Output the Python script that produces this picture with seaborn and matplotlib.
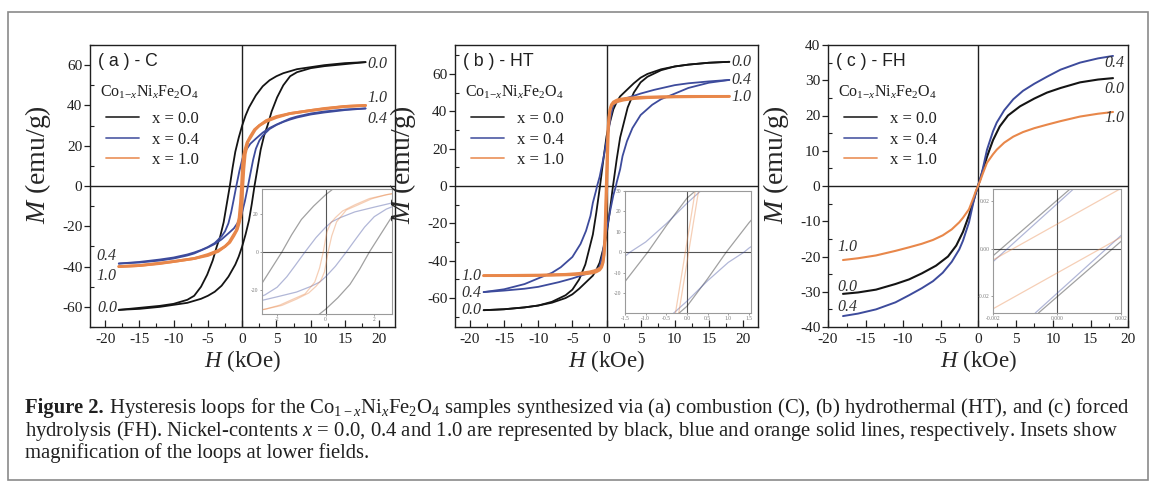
import numpy as np
import pandas as pd
import matplotlib
matplotlib.use("Agg")
import matplotlib.pyplot as plt
import seaborn as sns
from matplotlib.patches import Rectangle
from matplotlib.lines import Line2D
from matplotlib.ticker import MultipleLocator, FixedLocator, FixedFormatter

# ---------------- data (upper / descending branches) ----------------
samples = ["0.0", "0.4", "1.0"]

# (a) combustion
a_H_00 = [18, 15, 12, 10, 8, 7, 6, 5, 4, 3, 2, 1, 0.5, 0, -0.5, -1, -1.4, -1.8, -2.2, -2.7, -3.2, -3.7,
          -4.3, -5.1, -6, -7, -8, -10, -12, -15, -18]
a_M_00 = [61.5, 61, 60, 59, 58, 57, 56, 54.5, 52.5, 49.5, 45, 39, 35, 30, 24, 17, 9, 0, -8, -18, -25, -30,
          -37, -44, -50, -54.5, -56.5, -58.5, -59.5, -60.5, -61.5]
a_H_04 = [18, 15, 12, 10, 8, 7, 6, 5, 4, 3, 2, 1.2, 0.6, 0.25, 0, -0.4, -0.85, -1.25, -1.6, -2, -2.5, -3,
          -4, -5, -6, -7, -8, -10, -12, -15, -18]
a_M_04 = [38.5, 38, 37, 36, 34.5, 33.5, 32, 30.5, 28.8, 26.5, 23.5, 21, 18, 15.8, 13, 7.5, 0, -7, -13, -18.5,
          -22.5, -25, -28.3, -30.3, -31.8, -33, -34, -35.5, -36.5, -37.7, -38.5]
a_H_10 = [18, 15, 12, 10, 7, 5, 3.5, 2.5, 1.8, 1.2, 0.7, 0.4, 0.2, 0.05, -0.1, -0.25, -0.45, -0.85, -1.3,
          -1.9, -2.5, -3.5, -5, -7, -10, -15, -18]
a_M_10 = [40, 39.5, 38.5, 37.5, 36, 34.5, 32.5, 30, 28, 24.7, 21.5, 18, 15, 10.5, 0, -8.4, -15.8, -22, -24.5,
          -27.9, -30, -32, -34, -36, -37.5, -39.5, -40]

# (b) hydrothermal
b_H_00 = [18, 15, 12, 10, 8, 6, 5, 4, 3, 2, 1.5, 1, 0.5, 0.2, 0, -0.5, -0.95, -1.5, -2, -3.1, -4, -5, -6,
          -8, -10, -12, -15, -18]
b_M_00 = [66.5, 66, 65, 64, 62.5, 60, 58, 55, 51.5, 48, 45, 41, 34, 30, 26.5, 13, 0, -14.4, -26, -42, -50,
          -55.5, -58.5, -62, -64, -65, -66, -66.5]
b_H_04 = [18, 15, 12, 10, 7, 5, 3.5, 2, 1, 0.6, 0.33, 0, -0.5, -1, -1.38, -1.5, -2, -2.35, -3, -3.8, -5,
          -6.7, -8, -9.7, -12, -15, -18]
b_M_04 = [56.8, 56, 55, 54, 51.5, 49.5, 47.7, 46, 43.5, 37, 30, 24, 14, 5, 0, -2, -9, -16, -24, -31, -38,
          -43.5, -46.5, -49, -52.5, -55.3, -56.8]
b_H_10 = [18, 12, 8, 5, 3, 2, 1.5, 1, 0.7, 0.5, 0.35, 0.2, 0.08, -0.04, -0.16, -0.28, -0.4, -0.55, -0.8,
          -1.2, -1.6, -2.5, -4, -6, -10, -18]
b_M_10 = [48, 48, 47.8, 47.5, 47, 46.5, 46, 45, 43.5, 41, 37, 30, 15, 0, -15, -30, -37, -41, -43.5, -44.5,
          -45.2, -46, -46.8, -47.3, -47.7, -48]

# (c) forced hydrolysis (positive half, curves are odd-symmetric)
c_H_00 = [0, 0.3, 0.6, 1.2, 2, 2.9, 4, 5.6, 7.5, 9.2, 11, 13.6, 16, 18]
c_M_00 = [0, 2, 4.2, 8.3, 13, 16.9, 20, 22.6, 24.8, 26.5, 27.8, 29.4, 30.2, 30.6]
c_H_04 = [0, 0.3, 0.6, 1.2, 2, 2.5, 3.5, 4.7, 6, 7.5, 9.2, 11, 13.6, 16, 18]
c_M_04 = [0, 2, 4.5, 10.3, 15.5, 18, 21.5, 24.6, 27, 29, 31, 33, 35, 36.2, 36.9]
c_H_10 = [0, 0.3, 0.6, 1.2, 2, 2.5, 3.5, 4.7, 6, 7.5, 9.2, 11, 13.6, 16, 18]
c_M_10 = [0, 1.5, 3.3, 6.6, 9, 10.3, 12.3, 14, 15.3, 16.4, 17.4, 18.4, 19.7, 20.5, 21]

# (c) inset: low-field upper branches (kOe, emu/g)
ci_H_00 = [-0.0021, 0.00058]
ci_M_00 = [-0.0042, 0.027]
ci_H_04 = [-0.0021, 0.00068]
ci_M_04 = [-0.0067, 0.027]
ci_H_10 = [-0.0021, 0.0021]
ci_M_10 = [-0.0055, 0.0260]

# end labels: (H, M, text, ha)
a_labels = [(18.3, 60.5, "0.0", "left"), (18.3, 43.5, "1.0", "left"), (18.3, 33.5, "0.4", "left"),
            (-18.4, -35.0, "0.4", "right"), (-18.4, -44.8, "1.0", "right"), (-18.2, -60.5, "0.0", "right")]
b_labels = [(18.3, 66.4, "0.0", "left"), (18.3, 56.8, "0.4", "left"), (18.3, 47.5, "1.0", "left"),
            (-18.3, -48.2, "1.0", "right"), (-18.3, -57.3, "0.4", "right"), (-18.3, -66.4, "0.0", "right")]
c_labels = [(16.8, 34.8, "0.4", "left"), (16.8, 27.4, "0.0", "left"), (16.8, 19.2, "1.0", "left"),
            (-18.7, -17.3, "1.0", "left"), (-18.7, -28.6, "0.0", "left"), (-18.7, -34.2, "0.4", "left")]

panel_titles = ["( a ) - C", "( b ) - HT", "( c ) - FH"]
legend_labels = ["x = 0.0", "x = 0.4", "x = 1.0"]
formula = r"Co$_{1\mathrm{-}x}$Ni$_{x}$Fe$_{2}$O$_{4}$"

caption_bold = "Figure 2."
caption_l1 = (r" Hysteresis loops for the Co$_{1-x}$Ni$_{x}$Fe$_{2}$O$_{4}$ samples synthesized via (a) combustion (C), "
              r"(b) hydrothermal (HT), and (c) forced")
caption_l2 = (r"hydrolysis (FH). Nickel-contents $x\,=\,$0.0, 0.4 and 1.0 are represented by black, blue and orange "
              r"solid lines, respectively. Insets show")
caption_l3 = "magnification of the loops at lower fields."

# ---------------- style ----------------
colors = {"0.0": "#141414", "0.4": "#3d4b9c", "1.0": "#e8874a"}
widths = [{"0.0": 1.3, "0.4": 1.3, "1.0": 2.0},
          {"0.0": 1.3, "0.4": 1.3, "1.0": 2.0},
          {"0.0": 1.5, "0.4": 1.4, "1.0": 1.5}]
SERIF = ["Liberation Serif", "DejaVu Serif"]
SANS = ["Liberation Sans", "DejaVu Sans"]

sns.set_theme(style="ticks")
plt.rcParams.update({
    "font.family": SERIF,
    "mathtext.fontset": "custom",
    "mathtext.rm": "Liberation Serif",
    "mathtext.it": "Liberation Serif:italic",
    "mathtext.bf": "Liberation Serif:bold",
    "axes.unicode_minus": False,
    "axes.edgecolor": "#202020",
    "axes.linewidth": 1.0,
    "xtick.color": "#202020",
    "ytick.color": "#202020",
    "text.color": "#202020",
})

W, Hpx = 1153, 493
fig = plt.figure(figsize=(W / 100, Hpx / 100), dpi=100)
fig.patch.set_facecolor("white")


def rect(x0, y0, x1, y1):
    return [x0 / W, 1 - y1 / Hpx, (x1 - x0) / W, (y1 - y0) / Hpx]


def loop_frame(Hs, Ms):
    Hs = np.asarray(Hs, float)
    Ms = np.asarray(Ms, float)
    # descending branch and the ascending (point-symmetric) branch
    return pd.DataFrame({"H": np.concatenate([Hs, -Hs]), "M": np.concatenate([Ms, -Ms]),
                         "branch": ["down"] * len(Hs) + ["up"] * len(Hs)})


def odd_frame(Hs, Ms):
    Hs = np.asarray(Hs, float)
    Ms = np.asarray(Ms, float)
    h = np.concatenate([-Hs[::-1], Hs[1:]])
    m = np.concatenate([-Ms[::-1], Ms[1:]])
    return pd.DataFrame({"H": h, "M": m, "branch": ["one"] * len(h)})


panel_data = [
    {s: loop_frame(h, m) for s, h, m in zip(samples, [a_H_00, a_H_04, a_H_10], [a_M_00, a_M_04, a_M_10])},
    {s: loop_frame(h, m) for s, h, m in zip(samples, [b_H_00, b_H_04, b_H_10], [b_M_00, b_M_04, b_M_10])},
    {s: odd_frame(h, m) for s, h, m in zip(samples, [c_H_00, c_H_04, c_H_10], [c_M_00, c_M_04, c_M_10])},
]
inset_c_data = {s: loop_frame(h, m) for s, h, m in
                zip(samples, [ci_H_00, ci_H_04, ci_H_10], [ci_M_00, ci_M_04, ci_M_10])}

main_rects = [rect(90, 45, 395, 327), rect(455, 45, 758, 327), rect(828, 45, 1128, 327)]
xlims = [(-22.2, 22.3), (-22.2, 22.2), (-20, 20)]
ylims = [(-70, 70), (-75.5, 75.5), (-40, 40)]
ymaj = [20, 20, 10]
labels_all = [a_labels, b_labels, c_labels]

inset_rects = [rect(262, 189, 392, 314), rect(625, 191, 751, 313), rect(993, 189, 1121, 313)]
inset_xlims = [(-2.62, 2.73), (-1.5, 1.55), (-0.002, 0.002)]
inset_ylims = [(-32.5, 33), (-29.8, 30), (-0.027, 0.025)]
inset_xticks = [[-2, 0, 2], [-1.5, -1.0, -0.5, 0.0, 0.5, 1.0, 1.5], [-0.002, 0.0, 0.002]]
inset_xtl = [["-2", "0", "2"], ["-1.5", "-1.0", "-0.5", "0.0", "0.5", "1.0", "1.5"], ["-0.002", "0.000", "0.002"]]
inset_yticks = [[-20, 0, 20], [-20, -10, 0, 10, 20, 30], [-0.02, 0.0, 0.02]]
inset_ytl = [["-20", "0", "20"], ["-20", "-10", "0", "10", "20", "30"], ["-0.02", "0.00", "0.02"]]

for i in range(3):
    ax = fig.add_axes(main_rects[i])
    ax.axhline(0, color="#202020", lw=1.0, zorder=1)
    ax.axvline(0, color="#202020", lw=1.0, zorder=1)
    for s in samples:
        sns.lineplot(data=panel_data[i][s], x="H", y="M", units="branch", sort=False, estimator=None,
                     color=colors[s], lw=widths[i][s], ax=ax, zorder=3)
    ax.set_xlim(*xlims[i])
    ax.set_ylim(*ylims[i])
    ax.xaxis.set_major_locator(MultipleLocator(5))
    ax.xaxis.set_minor_locator(MultipleLocator(2.5))
    ax.yaxis.set_major_locator(MultipleLocator(ymaj[i]))
    ax.yaxis.set_minor_locator(MultipleLocator(ymaj[i] / 2))
    ax.tick_params(axis="x", which="major", direction="in", length=5, width=0.9, labelsize=11, pad=4)
    ax.tick_params(axis="x", which="minor", direction="in", length=3, width=0.8)
    ax.tick_params(axis="y", which="major", direction="out", length=4, width=0.9, labelsize=11, pad=1.5)
    ax.tick_params(axis="y", which="minor", direction="in", length=3, width=0.8)
    ax.set_xlabel(r"$H$ (kOe)", fontsize=16.5)
    ax.set_ylabel(r"$M$ (emu/g)", fontsize=20)
    ax.xaxis.set_label_coords(0.5, -0.075)
    ax.yaxis.set_label_coords(-0.122, 0.575)
    for sp in ax.spines.values():
        sp.set_visible(True)
        sp.set_linewidth(1.0)

    ax.text(0.025, 0.94, panel_titles[i], transform=ax.transAxes, family=SANS, fontsize=12.7,
            ha="left", va="center")
    ax.text(0.033, 0.833, formula, transform=ax.transAxes, fontsize=11.5, ha="left", va="center")
    handles = [Line2D([], [], color=colors[s], lw=1.3, alpha=0.85) for s in samples]
    ax.legend(handles, legend_labels, loc="upper left", bbox_to_anchor=(0.03, 0.79), frameon=False,
              fontsize=12, handlelength=2.0, handletextpad=0.8, labelspacing=0.28, borderaxespad=0)
    for (hx, my, txt, ha) in labels_all[i]:
        ax.text(hx, my, txt, ha=ha, va="center", fontsize=11.5, style="italic", color="#303030", zorder=4)

    # inset
    ins = fig.add_axes(inset_rects[i])
    ins.set_facecolor("white")
    ins.axhline(0, color="#555555", lw=0.8)
    ins.axvline(0, color="#555555", lw=0.8)
    data_src = panel_data[i] if i < 2 else inset_c_data
    for s in samples:
        sns.lineplot(data=data_src[s], x="H", y="M", units="branch", sort=False, estimator=None,
                     color=colors[s], lw=0.9, alpha=0.4, ax=ins)
    ins.set_xlim(*inset_xlims[i])
    ins.set_ylim(*inset_ylims[i])
    ins.xaxis.set_major_locator(FixedLocator(inset_xticks[i]))
    ins.xaxis.set_major_formatter(FixedFormatter(inset_xtl[i]))
    ins.yaxis.set_major_locator(FixedLocator(inset_yticks[i]))
    ins.yaxis.set_major_formatter(FixedFormatter(inset_ytl[i]))
    ins.tick_params(axis="both", which="major", direction="out", length=1.5, width=0.5, labelsize=4,
                    pad=1, colors="#777777")
    ins.set_xlabel("")
    ins.set_ylabel("")
    for sp in ins.spines.values():
        sp.set_visible(True)
        sp.set_color("#9a9a9a")
        sp.set_linewidth(0.8)

# ---------------- caption ----------------
fig.canvas.draw()
renderer = fig.canvas.get_renderer()
x_start = 25
target_w = 1127 - 25
fs0 = 12.0
tb = fig.text(x_start / W, 1 - 408 / Hpx, caption_bold, fontsize=fs0, weight="bold", ha="left", va="center")
t1 = fig.text(0, 1 - 408 / Hpx, caption_l1, fontsize=fs0, ha="left", va="center")
wb = tb.get_window_extent(renderer).width
w1 = t1.get_window_extent(renderer).width
fs = fs0 * target_w / (wb + w1)
tb.set_fontsize(fs)
t1.set_fontsize(fs)
fig.canvas.draw()
wb = tb.get_window_extent(renderer).width
t1.set_x((x_start + wb) / W)
fig.text(x_start / W, 1 - 431 / Hpx, caption_l2, fontsize=fs, ha="left", va="center")
fig.text(x_start / W, 1 - 453 / Hpx, caption_l3, fontsize=fs, ha="left", va="center")

# frame around the figure
fig.patches.append(Rectangle((8 / W, 1 - 480 / Hpx), (1148 - 8) / W, (480 - 12) / Hpx,
                             transform=fig.transFigure, fill=False, edgecolor="#8a8a8a", lw=1.2))

fig.savefig("out.png", dpi=100)
